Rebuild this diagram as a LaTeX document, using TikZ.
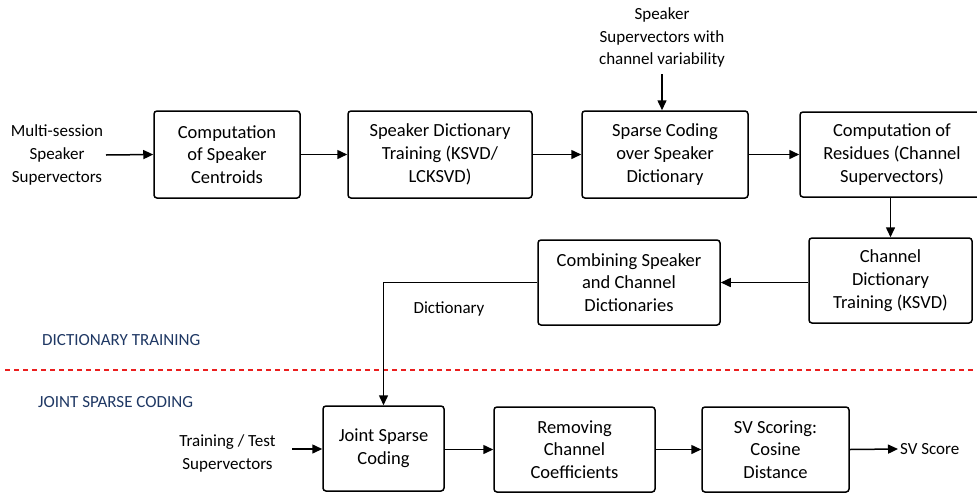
\documentclass[tikz,border=0pt]{standalone}
\usepackage{fontspec}
\setmainfont{Carlito}
\usetikzlibrary{arrows.meta}
\definecolor{navy}{RGB}{31,56,100}
\definecolor{dashred}{RGB}{235,30,30}
\tikzset{
  box/.style={draw=black, line width=1.5pt, rounded corners=3pt, align=center,
    font=\fontsize{18.5}{22.8}\selectfont, inner sep=0pt},
  lbl/.style={align=center, font=\fontsize{17}{23.2}\selectfont, inner sep=2pt},
  sect/.style={text=navy, font=\fontsize{17}{19}\selectfont, anchor=west, inner sep=0pt},
  conn/.style={line width=1.5pt, -{Triangle[length=10pt,width=9pt]}},
}
\begin{document}
\begin{tikzpicture}[x=1pt,y=-1pt]
\clip (0,0) rectangle (977,493);
\useasboundingbox (0,0) rectangle (977,493);
\fill[white] (0,0) rectangle (977,493);

% boxes
\node[box, minimum width=146pt, minimum height=87pt] (B1) at (227,154.5) {Computation\\of Speaker\\Centroids};
\node[box, minimum width=184pt, minimum height=87pt] (B2) at (440,154.5) {Speaker Dictionary\\Training (KSVD/\\LCKSVD)};
\node[box, minimum width=166pt, minimum height=87pt] (B3) at (665,154.5) {Sparse Coding\\over Speaker\\Dictionary};
\node[box, minimum width=184pt, minimum height=85pt] (B4) at (892,154.5) {Computation of\\Residues (Channel\\Supervectors)};
\node[box, minimum width=163pt, minimum height=85pt] (B5) at (890.5,280.5) {Channel\\Dictionary\\Training (KSVD)};
\node[box, minimum width=182pt, minimum height=85pt] (B6) at (629,282.5) {Combining Speaker\\and Channel\\Dictionaries};
\node[box, minimum width=121pt, minimum height=85pt] (B7) at (383.5,448.5) {Joint Sparse\\Coding};
\node[box, minimum width=161pt, minimum height=85pt] (B8) at (574.5,449.5) {Removing\\Channel\\Coefficients};
\node[box, minimum width=147pt, minimum height=85pt] (B9) at (775.5,449.5) {SV Scoring:\\Cosine\\Distance};

% labels
\node[lbl] (in1) at (57,155) {Multi-session\\Speaker\\Supervectors};
\node[lbl, font=\fontsize{17}{22.5}\selectfont] (top) at (662,37.5) {Speaker\\Supervectors with\\channel variability};
\node[lbl] (in2) at (227.5,453.5) {Training / Test\\Supervectors};
\node[lbl, anchor=west] (out) at (898,449) {SV Score};
\node[lbl] (dict) at (449,309) {Dictionary};
\node[sect] (sec1) at (42,340) {DICTIONARY TRAINING};
\node[sect] (sec2) at (38,402) {JOINT SPARSE CODING};

% separator
\coordinate (dl) at (5,370);
\coordinate (dr) at (977,370);
\draw[dashred, line width=1.1pt, dash pattern=on 5pt off 4pt] (dl) -- (dr);

% connectors
\coordinate (in1e) at (106,155);
\draw[conn] (in1e) -- (B1.west);
\draw[conn] (B1.east) -- (B2.west);
\draw[conn] (B2.east) -- (B3.west);
\draw[conn] (B3.east) -- (B4.west);
\coordinate (topb) at (662,74);
\draw[conn] (topb) -- (topb |- B3.north);
\draw[conn] (B5.north |- B4.south) -- (B5.north);
\draw[conn] (B5.west |- B6.east) -- (B6.east);
\draw[conn] (B6.west) -| (B7.north);
\coordinate (in2e) at (292,449);
\draw[conn] (in2e) -- (B7.west |- in2e);
\draw[conn] (B7.east |- B8.west) -- (B8.west);
\draw[conn] (B8.east) -- (B9.west);
\draw[conn] (B9.east) -- (out.west);
\end{tikzpicture}
\end{document}
